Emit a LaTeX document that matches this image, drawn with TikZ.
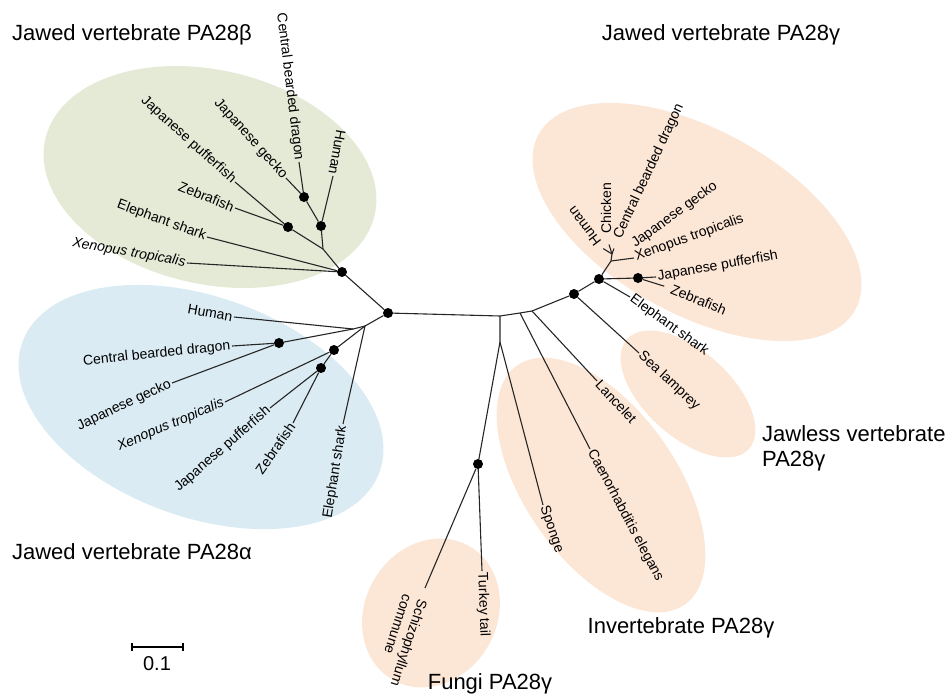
\documentclass[tikz,border=0pt]{standalone}
\usepackage{fontspec}
\setmainfont{Liberation Sans}
\definecolor{betafill}{RGB}{229,234,214}
\definecolor{alphafill}{RGB}{218,235,243}
\definecolor{gammafill}{RGB}{252,230,214}
\tikzset{
  branch/.style={draw=black!85, line width=1.1pt},
  dot/.style={circle, fill=black, inner sep=0pt, minimum size=10pt},
  leaf/.style={font=\fontsize{14}{16}\selectfont, inner sep=1.5pt},
  group/.style={font=\fontsize{22}{25}\selectfont, inner sep=0pt},
}
\begin{document}
\begin{tikzpicture}[x=1pt, y=-1pt]
        \useasboundingbox (0,0) rectangle (948,696);

        % 1. Sfondi dei gruppi (ellissi colorate)
        \fill[betafill, rotate around={-13:(210,177)}] (210,177) ellipse [x radius=169, y radius=107];
        \fill[alphafill, rotate around={-20:(201,407)}] (201,407) ellipse [x radius=190, y radius=110];
        \fill[gammafill, rotate around={-29:(697,222)}] (697,222) ellipse [x radius=181, y radius=92];
        \fill[gammafill, rotate around={-42:(688,394)}] (688,394) ellipse [x radius=82, y radius=43];
        \fill[gammafill, rotate around={-55:(601,485)}] (601,485) ellipse [x radius=146, y radius=76];
        \fill[gammafill, rotate around={60:(431,613)}] (431,613) ellipse [x radius=77, y radius=66];

        % 2. Nodi interni dell'albero
        \node[dot] (rad) at (388,313) {};
        \node[dot] (b0) at (342,272) {};
        \coordinate (b1) at (323,249);
        \node[dot] (b2) at (321,226) {};
        \node[dot] (b3) at (304,197) {};
        \node[dot] (b4) at (288,227) {};
        \coordinate (a0) at (365,326);
        \coordinate (a1) at (353,329);
        \node[dot] (a2) at (279,343) {};
        \node[dot] (a3) at (334,350) {};
        \node[dot] (a4) at (321,368) {};
        \coordinate (c0) at (500,316);
        \coordinate (c1) at (520,313);
        \coordinate (c2) at (532,311);
        \node[dot] (c3) at (574,294) {};
        \node[dot] (c4) at (599,279) {};
        \node[dot] (c5) at (638,278) {};
        \coordinate (c6) at (611,261);
        \coordinate (c7) at (612,254);
        \coordinate (f0) at (500,342);
        \node[dot] (f1) at (478,464) {};
        \coordinate (tsch) at (425,588);

        % 3. Foglie PA28 beta
        \node[leaf, rotate=-100, anchor=east] (bhum) at (333,176) {Human};
        \node[leaf, rotate=-83, anchor=east] (bdra) at (299,162) {Central bearded dragon};
        \node[leaf, rotate=-48, anchor=east] (bgec) at (286,178) {Japanese gecko};
        \node[leaf, rotate=-42, anchor=east] (bpuf) at (235,182) {Japanese pufferfish};
        \node[leaf, rotate=-22, anchor=east] (bzeb) at (235,208) {Zebrafish};
        \node[leaf, rotate=-20, anchor=east] (bele) at (207,237) {Elephant shark};
        \node[leaf, rotate=-10, anchor=east] (bxen) at (187,263) {\itshape Xenopus tropicalis};

        % 4. Foglie PA28 alfa
        \node[leaf, rotate=-10, anchor=east] (ahum) at (234,317) {Human};
        \node[leaf, rotate=6, anchor=east] (adra) at (232,346) {Central bearded dragon};
        \node[leaf, rotate=25, anchor=east] (agec) at (172,383) {Japanese gecko};
        \node[leaf, rotate=23, anchor=east] (axen) at (225,402) {\itshape Xenopus tropicalis};
        \node[leaf, rotate=41, anchor=east] (apuf) at (270,408) {Japanese pufferfish};
        \node[leaf, rotate=55, anchor=east] (azeb) at (293,423) {Zebrafish};
        \node[leaf, rotate=81, anchor=east] (aele) at (343,424) {Elephant shark};

        % 5. Foglie PA28 gamma
        \node[leaf, rotate=127, anchor=west] (ghum) at (599,246) {Human};
        \node[leaf, rotate=90, anchor=west] (gchi) at (606,235) {Chicken};
        \node[leaf, rotate=65, anchor=west] (gdra) at (617,240) {Central bearded dragon};
        \node[leaf, rotate=36, anchor=west] (ggec) at (632,246) {Japanese gecko};
        \node[leaf, rotate=20, anchor=west] (gxen) at (634,258) {Xenopus tropicalis};
        \node[leaf, rotate=10, anchor=west] (gpuf) at (656,277) {Japanese pufferfish};
        \node[leaf, rotate=-22, anchor=west] (gzeb) at (670,288) {Zebrafish};
        \node[leaf, rotate=-36, anchor=west] (gele) at (630,297) {Elephant shark};
        \node[leaf, rotate=-43, anchor=west] (glam) at (639,353) {Sea lamprey};
        \node[leaf, rotate=-47, anchor=west] (glan) at (597,381) {Lancelet};
        \node[leaf, rotate=-62, anchor=west] (gcae) at (590,449) {Caenorhabditis elegans};
        \node[leaf, rotate=-71, anchor=west] (gspo) at (543,505) {Sponge};
        \node[leaf, rotate=-88, anchor=west] (gtur) at (482,571) {Turkey tail};
        \node[leaf, rotate=-108, anchor=west, align=left] (gsch) at (416,596) {Schizophyllum\\commune};

        % 6. Rami
        \draw[branch] (rad) -- (b0) -- (b1) -- (b2) -- (b3) -- (bdra.east);
        \draw[branch] (b1) -- (b4) -- (bpuf.east);
        \draw[branch] (b4) -- (bzeb.east);
        \draw[branch] (b2) -- (bhum.east);
        \draw[branch] (b3) -- (bgec.east);
        \draw[branch] (b0) -- (bele.east);
        \draw[branch] (b0) -- (bxen.east);

        \draw[branch] (rad) -- (a0) -- (a1) -- (ahum.east);
        \draw[branch] (a1) -- (a2) -- (adra.east);
        \draw[branch] (a2) -- (agec.east);
        \draw[branch] (a0) -- (a3) -- (axen.east);
        \draw[branch] (a3) -- (a4) -- (apuf.east);
        \draw[branch] (a4) -- (azeb.east);
        \draw[branch] (a0) -- (aele.east);

        \draw[branch] (rad) -- (c0) -- (c1) -- (c2) -- (c3) -- (c4) -- (c5) -- (gpuf.west);
        \draw[branch, shorten >=6pt] (c5) -- (gzeb.west);
        \draw[branch] (c4) -- (gele.west);
        \draw[branch] (c4) -- (c6) -- (c7);
        \draw[branch] (c6) -- (gxen.west);
        \draw[branch, shorten >=5pt] (c7) -- (ghum.west);
        \draw[branch, shorten >=10pt] (c7) -- (gchi.west);
        \draw[branch, shorten >=9pt] (c7) -- (gdra.west);
        \draw[branch] (c3) -- (glam.west);
        \draw[branch] (c2) -- (glan.west);
        \draw[branch] (c1) -- (gcae.west);
        \draw[branch] (c0) -- (f0) -- (gspo.west);
        \draw[branch] (f0) -- (f1) -- (gtur.west);
        \draw[branch] (f1) -- (tsch);

        % 7. Nomi dei gruppi
        \node[group] (tbeta) at (132,35) {Jawed vertebrate PA28β};
        \node[group] (talpha) at (132,552) {Jawed vertebrate PA28α};
        \node[group] (tgamma) at (721,35) {Jawed vertebrate PA28γ};
        \node[group, align=left, anchor=west] (tjawless) at (762,448) {Jawless vertebrate\\PA28γ};
        \node[group] (tinv) at (681,628) {Invertebrate PA28γ};
        \node[group] (tfungi) at (490,684) {Fungi PA28γ};

        % 8. Barra di scala
        \coordinate (s0) at (132,647);
        \coordinate (s1) at (183,647);
        \draw[line width=1.6pt] (s0) -- (s1);
        \draw[line width=1.6pt] ([yshift=4pt]s0) -- ([yshift=-4pt]s0);
        \draw[line width=1.6pt] ([yshift=4pt]s1) -- ([yshift=-4pt]s1);
        \node[font=\fontsize{20}{24}\selectfont, inner sep=0pt] (scala) at (157,664) {0.1};
    \end{tikzpicture}
\end{document}
